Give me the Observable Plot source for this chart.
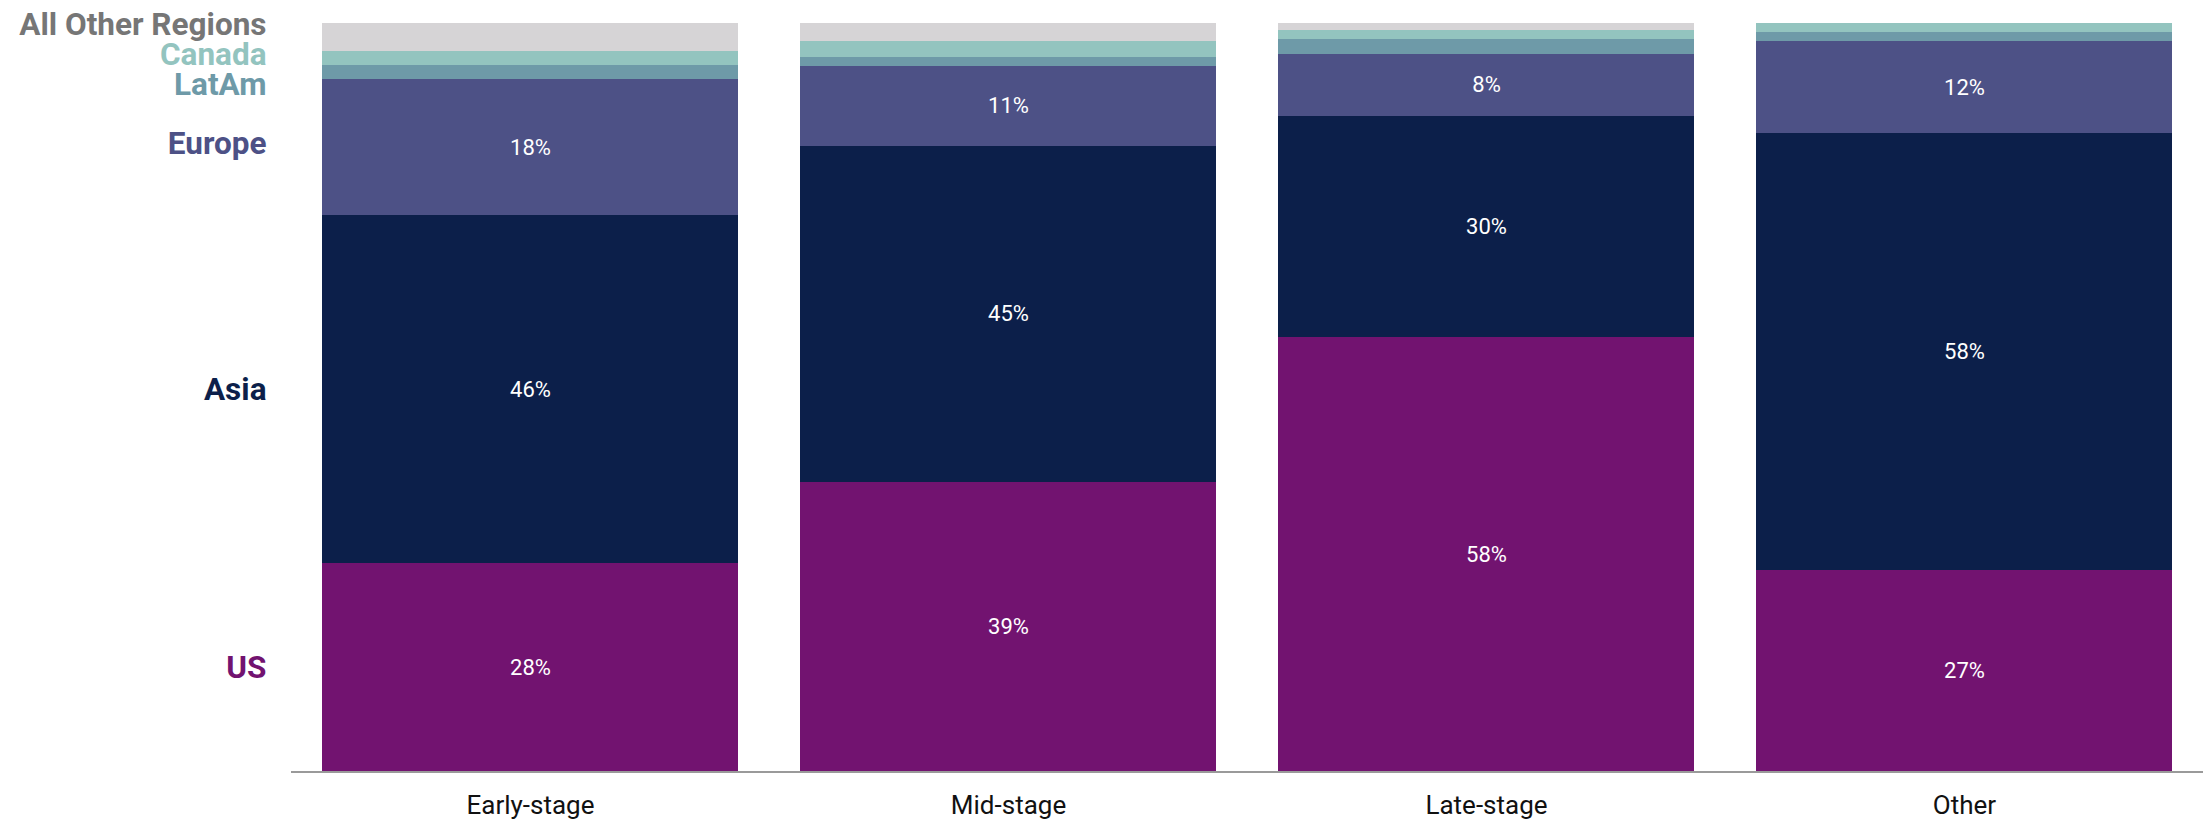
<!DOCTYPE html>
<html>
<head>
<meta charset="utf-8">
<script src="https://cdn.jsdelivr.net/npm/d3@7"></script>
<script src="https://cdn.jsdelivr.net/npm/@observablehq/plot@0.6"></script>
<style>
  html, body { margin: 0; padding: 0; background: #ffffff; }
  #chart svg { display: block; font-family: Roboto, "Noto Sans", sans-serif; }
</style>
</head>
<body>
<div id="chart"></div>
<script>
// ---- Data (percent share by stage) ----
const stages = ["Early-stage", "Mid-stage", "Late-stage", "Other"];
const regions = ["US", "Asia", "Europe", "LatAm", "Canada", "All Other Regions"];
const usValues = [27.9, 38.7, 58.0, 26.9];
const asiaValues = [46.4, 44.9, 29.6, 58.4];
const europeValues = [18.2, 10.7, 8.3, 12.3];
const latamValues = [1.9, 1.2, 2.0, 1.2];
const canadaValues = [1.9, 2.1, 1.1, 1.2];
const otherRegionValues = [3.7, 2.4, 1.0, 0];

const barColors = ["#721370", "#0c1f4a", "#4d5186", "#6e9aa8", "#93c4bf", "#d6d4d6"];
const labelColors = ["#721370", "#0c1f4a", "#4d5186", "#6e9aa8", "#93c4bf", "#767676"];

const series = [usValues, asiaValues, europeValues, latamValues, canadaValues, otherRegionValues];
const table = [];
regions.forEach((r, i) => stages.forEach((s, j) => table.push({region: r, stage: s, value: series[i][j]})));

// ---- Left region labels: centred on the first bar's segments, dodged apart ----
const gapPct = 4.0;
let acc = 0;
const items = regions.map((r, i) => {
  const v = series[i][0];
  const c = acc + v / 2;
  acc += v;
  return {region: r, center: c, color: labelColors[i], value: v};
});
let groups = items.map(d => ({members: [d]}));
function place(g) {
  const mean = d3.mean(g.members, d => d.center);
  const n = g.members.length;
  g.members.forEach((d, k) => d.pos = mean + (k - (n - 1) / 2) * gapPct);
}
groups.forEach(place);
let merged = true;
while (merged) {
  merged = false;
  for (let k = 0; k < groups.length - 1; k++) {
    const a = groups[k], b = groups[k + 1];
    if (a.members[a.members.length - 1].pos + gapPct > b.members[0].pos) {
      const g = {members: a.members.concat(b.members)};
      place(g);
      groups.splice(k, 2, g);
      merged = true;
      break;
    }
  }
}

const W = 2203, H = 822;
const chart = Plot.plot({
  width: W,
  height: H,
  marginLeft: 291,
  marginRight: 0,
  marginTop: 23,
  marginBottom: 50.5,
  style: {fontFamily: "Roboto, 'Noto Sans', sans-serif", background: "#ffffff"},
  x: {domain: stages, paddingInner: 0.13, paddingOuter: 0.065, label: null},
  y: {domain: [0, 100], axis: null},
  color: {domain: regions, range: barColors},
  marks: [
    Plot.barY(table, Plot.stackY({x: "stage", y: "value", z: "region", order: regions, fill: "region", shapeRendering: "crispEdges"})),
    Plot.text(table, Plot.stackY({
      x: "stage", y: "value", z: "region", order: regions,
      text: d => d.value > 5 ? Math.round(d.value) + "%" : null,
      fill: "#ffffff", fontSize: 22, fontWeight: 400
    })),
    ...items.map(d => Plot.text([d], {
      x: () => stages[0], y: "pos", text: "region",
      fill: d.color, fontSize: 31.5, fontWeight: 700,
      textAnchor: "end", dx: -264, dy: d.value < 5 ? -1.5 : (d.value < 20 ? -4 : 0)
    })),
    Plot.ruleY([0], {stroke: "#9a9a9a", strokeWidth: 2}),
    Plot.axisX({tickSize: 0, tickPadding: 24, fontSize: 26, color: "#111111", label: null})
  ]
});
document.getElementById("chart").appendChild(chart);
</script>
</body>
</html>
